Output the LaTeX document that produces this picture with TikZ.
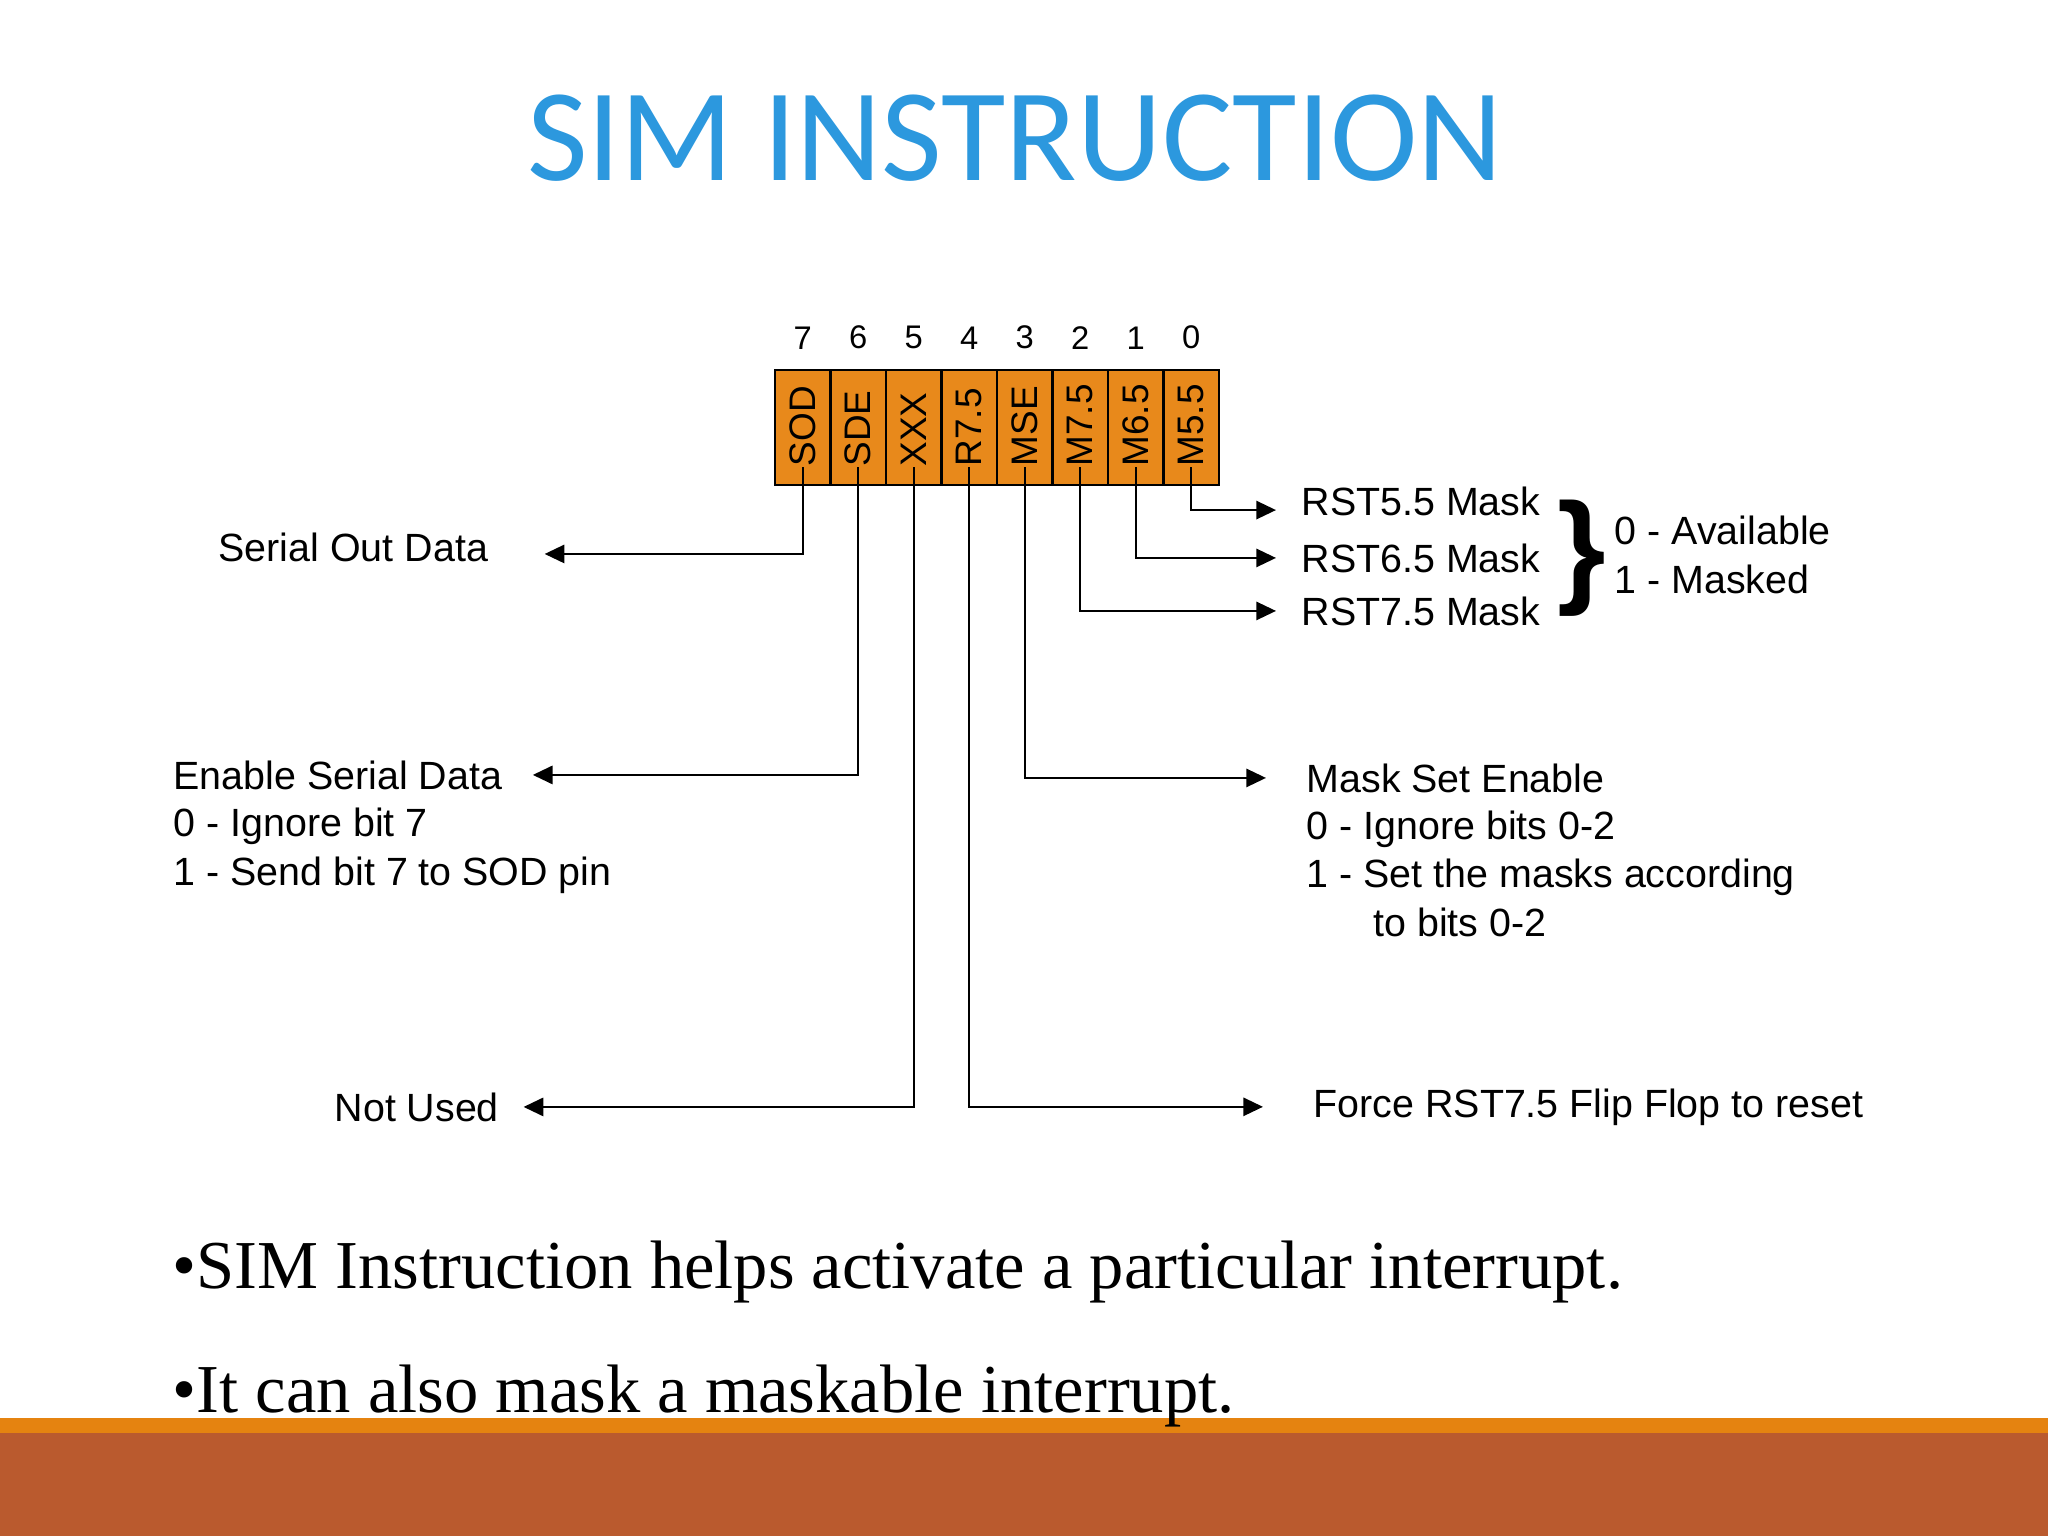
\documentclass[tikz,border=0pt]{standalone}
\usepackage{fontspec}
\setmainfont{Liberation Sans}
\newfontfamily\titlefont{Carlito}
\newfontfamily\bulletfont{Liberation Serif}
\usetikzlibrary{arrows.meta, positioning, calc}
\definecolor{titleblue}{RGB}{44,152,222}
\definecolor{regorange}{RGB}{232,137,27}
\definecolor{barorange}{RGB}{229,131,16}
\definecolor{barbrown}{RGB}{186,90,46}

\begin{document}
\begin{tikzpicture}[x=0.01cm, y=-0.01cm,
    cell/.style={rectangle, draw=black, line width=0.6pt, fill=regorange, minimum width=0.555cm, minimum height=1.15cm, inner sep=0pt, outer sep=0pt},
    bitnum/.style={inner sep=0pt, font=\fontsize{9.3}{11}\selectfont},
    reglbl/.style={inner sep=0pt, rotate=90, anchor=west, font=\fontsize{10.5}{12}\selectfont},
    lbl/.style={inner sep=0pt, align=left, anchor=base west, font=\fontsize{11.2}{13.66}\selectfont},
    lead/.style={line width=0.6pt, -{Triangle[length=5.6pt, width=5.2pt]}},
    bullet/.style={inner sep=0pt, anchor=base west, font=\bulletfont\fontsize{19.5}{23}\selectfont}
  ]
  \fill[white] (0,0) rectangle (2048,1536);
  \useasboundingbox (0,0) rectangle (2048,1536);
  %
  % Title
  \node[anchor=base, text=titleblue, font=\titlefont\fontsize{37.5}{45}\selectfont] (title) at (1015,180) {SIM INSTRUCTION};
  %
  % Register bits
  \foreach \name [count=\i from 0] in {SOD,SDE,XXX,R7.5,MSE,M7.5,M6.5,M5.5}{
    \pgfmathtruncatemacro{\bit}{7-\i}
    \node[cell] (c\bit) at ({802.75+55.5*\i},427.5) {};
    \node[bitnum, above=0.2cm of c\bit] (n\bit) {\bit};
    \node[reglbl] (r\bit) at ([yshift=0.18cm]c\bit.south) {\name};
  }
  %
  % Left labels (multi-line nodes sit on their last baseline)
  \node[lbl] (serout) at (218,561) {Serial Out Data};
  \node[lbl] (serena) at (173,789) {Enable Serial Data};
  \node[lbl] (serdet) at (173,885) {0 - Ignore bit 7\\1 - Send bit 7 to SOD pin};
  \node[lbl] (notused) at (334,1121) {Not Used};
  %
  % Right labels
  \node[lbl] (rst55) at (1301,515) {RST5.5 Mask};
  \node[lbl] (rst65) at (1301,572) {RST6.5 Mask};
  \node[lbl] (rst75) at (1301,625) {RST7.5 Mask};
  \node[inner sep=0pt, font=\bfseries\fontsize{35.5}{40}\selectfont] (brace) at (1582,558) {\}};
  \node[lbl] (maskval) at (1614,593) {0 - Available\\1 - Masked};
  \node[lbl] (mse) at (1306,792) {Mask Set Enable};
  \node[lbl] (msedet) at (1306,936) {0 - Ignore bits 0-2\\1 - Set the masks according\\\hspace*{19pt}to bits 0-2};
  \node[lbl] (force) at (1313,1117) {Force RST7.5 Flip Flop to reset};
  %
  % Leads from the bits
  \draw[lead, shorten >=0.56cm] (r7.west) |- ([yshift=-2pt]serout.east);
  \draw[lead, shorten >=0.3cm] (r6.west) |- (serena.east);
  \draw[lead, shorten >=0.24cm] (r5.west) |- (notused.east);
  \draw[lead, shorten >=0.5cm] (r4.west) |- (force.west);
  \draw[lead, shorten >=0.4cm] (r3.west) |- (mse.west);
  \draw[lead, shorten >=0.25cm] (r2.west) |- (rst75.west);
  \draw[lead, shorten >=0.25cm] (r1.west) |- (rst65.west);
  \draw[lead, shorten >=0.25cm] (r0.west) |- ([yshift=-2.6pt]rst55.west);
  %
  % Footer bar
  \fill[barorange] (0,1418) rectangle (2048,1433);
  \fill[barbrown] (0,1433) rectangle (2048,1536);
  %
  % Bullet points
  \node[bullet] (pt1) at (172,1288) {•SIM Instruction helps activate a particular interrupt.};
  \node[bullet] (pt2) at (172,1412) {•It can also mask a maskable interrupt.};
\end{tikzpicture}
\end{document}
